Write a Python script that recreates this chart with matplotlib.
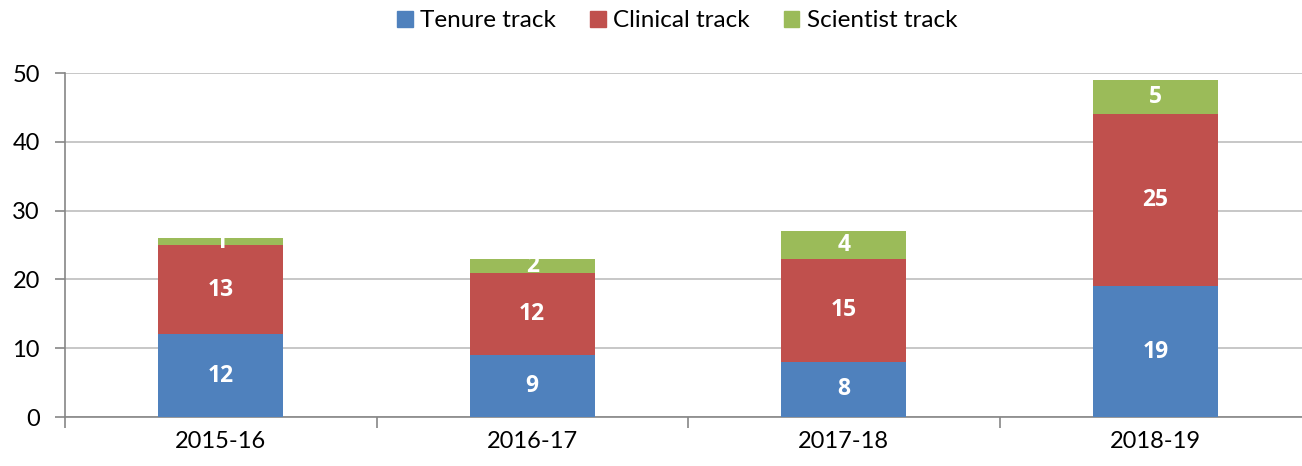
import numpy as np
import matplotlib
matplotlib.use("Agg")
import matplotlib.pyplot as plt
from matplotlib.patches import Patch

years = ["2015-16", "2016-17", "2017-18", "2018-19"]
tenure = [12, 9, 8, 19]
clinical = [13, 12, 15, 25]
scientist = [1, 2, 4, 5]

series = [
    ("Tenure track", tenure, "#4F81BD"),
    ("Clinical track", clinical, "#C0504D"),
    ("Scientist track", scientist, "#9BBB59"),
]

plt.rcParams['font.family'] = ['Lato', 'DejaVu Sans']

fig = plt.figure(figsize=(13.02, 4.66), dpi=100)
ax = fig.add_axes([65 / 1302, 1 - 417 / 466, 1246 / 1302, 344 / 466])

x = np.arange(len(years))
bottom = np.zeros(len(years))
for name, vals, color in series:
    bars = ax.bar(x, vals, 0.4, bottom=bottom, color=color, label=name, zorder=3)
    for b, v in zip(bars, vals):
        ax.text(b.get_x() + b.get_width() / 2, b.get_y() + b.get_height() / 2, str(v),
                ha='center', va='center', color='white', fontsize=16.5, fontweight='bold',
                family=['Open Sans', 'DejaVu Sans'], zorder=4)
    bottom += np.array(vals)

ax.set_xlim(-0.5, 3.5)
ax.set_ylim(0, 50)
ax.set_yticks(range(0, 51, 10))
ax.yaxis.grid(True, color='#BEBEBE', linewidth=1.2, zorder=0)
ax.set_xticks(x)
ax.set_xticklabels(years)
ax.set_xticks(np.arange(-0.5, 3.5, 1), minor=True)
ax.tick_params(axis='x', which='major', length=0, pad=10, labelsize=17)
ax.tick_params(axis='x', which='minor', length=8, color='#868686', width=1.2)
ax.tick_params(axis='y', length=7, color='#868686', width=1.2, labelsize=17, pad=11)

for s in ['top', 'right']:
    ax.spines[s].set_visible(False)
for s in ['left', 'bottom']:
    ax.spines[s].set_color('#868686')
    ax.spines[s].set_linewidth(1.2)

handles = [Patch(color=c, label=n) for n, _, c in series]
fig.legend(handles=handles, loc='upper center', bbox_to_anchor=(0.52, 1.025), ncol=3,
           frameon=False, fontsize=17.5, handlelength=0.65, handleheight=0.65,
           handletextpad=0.3, columnspacing=1.4)

fig.savefig("out.png", dpi=100)
